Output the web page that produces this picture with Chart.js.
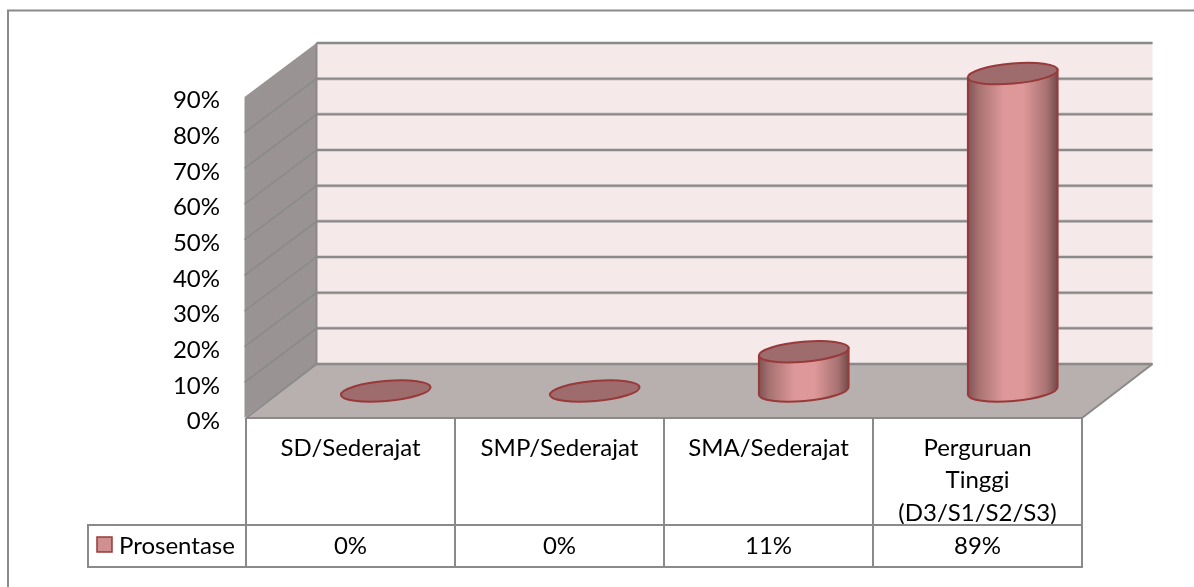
<!DOCTYPE html>
<html><head><meta charset="utf-8">
<style>html,body{margin:0;padding:0;background:#fff}#w{position:relative;width:1194px;height:587px}canvas{display:block}</style>
<script src="https://cdn.jsdelivr.net/npm/chart.js@4/dist/chart.umd.min.js"></script>
</head><body><div id="w"><canvas id="c" width="1194" height="587"></canvas></div>
<script>
const categories = ['SD/Sederajat','SMP/Sederajat','SMA/Sederajat',['Perguruan','Tinggi','(D3/S1/S2/S3)']];
const seriesName = 'Prosentase';
const values = [0,0,11,89];
const tableLabels = ['0%','0%','11%','89%'];
const yTicks = [0,10,20,30,40,50,60,70,80,90];

const DX = 70.5, DY = 54, FONT = '400 24px Lato', LINE = '#8a8a8a', RED = '#98393a';
const BAR_W = 90, TILT = -5*Math.PI/180, B = 10;

const scene = {
  id:'scene',
  beforeDatasetsDraw(ch){
    const {ctx, chartArea:a, scales:{y}} = ch;
    ctx.save();
    // frame
    ctx.strokeStyle='#8a8a8a'; ctx.lineWidth=2;
    ctx.beginPath(); ctx.moveTo(8,587); ctx.lineTo(8,10.5); ctx.lineTo(1194,10.5); ctx.stroke();
    const L=a.left,R=a.right,T=a.top,Bt=a.bottom;
    // back wall
    ctx.fillStyle='#f5e9e9'; ctx.fillRect(L+DX,T-DY,R-L,Bt-T);
    // side wall
    ctx.fillStyle='#999393'; ctx.beginPath();
    ctx.moveTo(L-1.5,T);ctx.lineTo(L+DX,T-DY);ctx.lineTo(L+DX,Bt-DY);ctx.lineTo(L-1.5,Bt);ctx.closePath();ctx.fill();
    // floor
    ctx.fillStyle='#b8afaf'; ctx.beginPath();
    ctx.moveTo(L,Bt);ctx.lineTo(R,Bt);ctx.lineTo(R+DX,Bt-DY);ctx.lineTo(L+DX,Bt-DY);ctx.closePath();ctx.fill();
    // gridlines on walls
    yTicks.forEach(t=>{
      const py=y.getPixelForValue(t);
      ctx.strokeStyle='rgba(138,138,138,.35)';ctx.lineWidth=3.5;
      ctx.beginPath();ctx.moveTo(L+DX,py-DY);ctx.lineTo(R+DX,py-DY);ctx.stroke();
      ctx.strokeStyle=LINE;ctx.lineWidth=2;
      ctx.beginPath();ctx.moveTo(L+DX,py-DY);ctx.lineTo(R+DX,py-DY);ctx.stroke();
      if(t>0 && t<90){ctx.lineWidth=1.5;ctx.beginPath();ctx.moveTo(L-1.5,py);ctx.lineTo(L+DX,py-DY);ctx.stroke();}
    });
    ctx.lineWidth=2;ctx.strokeStyle=LINE;
    ctx.beginPath();ctx.moveTo(L+DX,T-DY);ctx.lineTo(L+DX,Bt-DY);ctx.lineTo(L,Bt);ctx.stroke();
    ctx.beginPath();ctx.moveTo(R,Bt);ctx.lineTo(R+DX,Bt-DY);ctx.stroke();
    ctx.restore();
  },
  afterDatasetsDraw(ch){
    const {ctx, chartArea:a} = ch;
    const meta = ch.getDatasetMeta(0);
    ctx.save();
    meta.data.forEach(el=>{
      const xc=el.x+DX/2, yt=el.y-DY/2, yb=el.base-DY/2, A=el.width/2;
      const ox=A*Math.cos(TILT), oy=A*Math.sin(TILT);
      ctx.lineWidth=2; ctx.strokeStyle=RED;
      if(yb-yt>0.5){
        const g=ctx.createLinearGradient(xc-ox,0,xc+ox,0);
        g.addColorStop(0,'#7f5353');g.addColorStop(.12,'#a87272');g.addColorStop(.4,'#de9899');
        g.addColorStop(.62,'#de9899');g.addColorStop(.88,'#a87272');g.addColorStop(1,'#744a4a');
        ctx.fillStyle=g;
        ctx.beginPath();
        ctx.moveTo(xc-ox,yt-oy);
        ctx.lineTo(xc-ox,yb-oy);
        ctx.ellipse(xc,yb,A,B,TILT,Math.PI,0,true);
        ctx.lineTo(xc+ox,yt+oy);
        ctx.closePath();
        ctx.fill();ctx.stroke();
      }
      ctx.fillStyle='#9e6c6c';
      ctx.beginPath();ctx.ellipse(xc,yt,A,B,TILT,0,Math.PI*2);ctx.fill();ctx.stroke();
    });
    // data table
    const x=ch.scales.x, L=a.left,R=a.right,Bt=a.bottom, rowT=525, rowB=567, LEG=88;
    const step=(R-L)/categories.length;
    ctx.strokeStyle=LINE;ctx.lineWidth=2;
    for(let i=0;i<=categories.length;i++){
      const px=L+i*step;ctx.beginPath();ctx.moveTo(px,Bt);ctx.lineTo(px,rowB);ctx.stroke();
    }
    ctx.beginPath();ctx.moveTo(L,Bt);ctx.lineTo(R,Bt);ctx.stroke();
    ctx.strokeRect(LEG,rowT,R-LEG,rowB-rowT);
    ctx.font=FONT;ctx.fillStyle='#000';ctx.textBaseline='middle';ctx.textAlign='center';
    tableLabels.forEach((s,i)=>ctx.fillText(s,x.getPixelForTick(i),rowT+21));
    // legend key
    ctx.fillStyle='#d09090';ctx.strokeStyle=RED;ctx.lineWidth=1.5;
    ctx.fillRect(97,537,15,15);ctx.strokeRect(97,537,15,15);
    ctx.fillStyle='#000';ctx.textAlign='left';
    ctx.fillText(seriesName,119,rowT+21);
    ctx.restore();
  }
};

new Chart(document.getElementById('c'),{
  type:'bar',
  data:{labels:categories,datasets:[{label:seriesName,data:values,backgroundColor:'rgba(0,0,0,0)',borderWidth:0,barThickness:BAR_W}]},
  plugins:[scene],
  options:{
    responsive:false,animation:false,
    layout:{padding:{top:97,right:112,left:0,bottom:0}},
    plugins:{legend:{display:false},tooltip:{enabled:false},title:{display:false}},
    scales:{
      x:{type:'category',offset:true,
        grid:{display:false,drawTicks:false},border:{display:false},
        ticks:{color:'#000',font:{family:'Lato',size:24,lineHeight:1.35},padding:14,maxRotation:0,minRotation:0,autoSkip:false},
        afterFit(s){s.height=169;}},
      y:{min:0,max:90,
        grid:{display:false,drawTicks:false},border:{display:false},
        afterBuildTicks(s){s.ticks=yTicks.map(v=>({value:v}));},
        ticks:{color:'#000',font:{family:'Lato',size:24},padding:26,labelOffset:3.5,callback:v=>v+'%'},
        afterFit(s){s.width=246;}}
    }
  }
});
</script></body></html>
